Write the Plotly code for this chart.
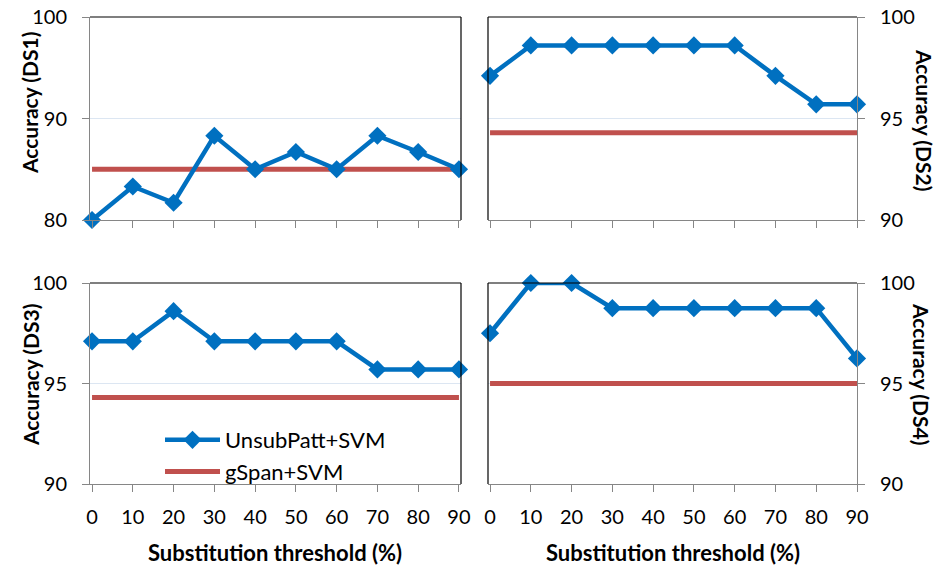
import plotly.graph_objects as go

thresholds = [0, 10, 20, 30, 40, 50, 60, 70, 80, 90]
unsub_ds1 = [80.0, 83.3, 81.7, 88.3, 85.0, 86.7, 85.0, 88.3, 86.7, 85.0]
unsub_ds2 = [97.1, 98.6, 98.6, 98.6, 98.6, 98.6, 98.6, 97.1, 95.7, 95.7]
unsub_ds3 = [97.1, 97.1, 98.6, 97.1, 97.1, 97.1, 97.1, 95.7, 95.7, 95.7]
unsub_ds4 = [97.5, 100.0, 100.0, 98.75, 98.75, 98.75, 98.75, 98.75, 98.75, 96.25]
gspan_ds1 = 85.0
gspan_ds2 = 94.3
gspan_ds3 = 94.3
gspan_ds4 = 95.0
y_ticks_ds1 = [80, 90, 100]
y_ticks_other = [90, 95, 100]
series_names = ["UnsubPatt+SVM", "gSpan+SVM"]
y_titles = ["Accuracy (DS1)", "Accuracy (DS2)", "Accuracy (DS3)", "Accuracy (DS4)"]
x_title = "Substitution threshold (%)"

W, H = 952, 566
BLUE = "#0070C0"
RED = "#C0504D"
GRAY = "#868686"
GRID = "#DCE6F2"
FONT = "Lato"

def px(x):
    return x / W

def py(y):
    return 1 - y / H

fig = go.Figure()

panels = [
    dict(u=unsub_ds1, g=gspan_ds1, xa="x", ya="y", showleg=True),
    dict(u=unsub_ds2, g=gspan_ds2, xa="x2", ya="y2", showleg=False),
    dict(u=unsub_ds3, g=gspan_ds3, xa="x3", ya="y3", showleg=False),
    dict(u=unsub_ds4, g=gspan_ds4, xa="x4", ya="y4", showleg=False),
]

for p in panels:
    fig.add_trace(go.Scatter(
        x=thresholds, y=[p["g"]] * len(thresholds), mode="lines",
        line=dict(color=RED, width=5), name=series_names[1],
        showlegend=p["showleg"], legendrank=2, xaxis=p["xa"], yaxis=p["ya"],
        cliponaxis=False))
    fig.add_trace(go.Scatter(
        x=thresholds, y=p["u"], mode="lines+markers",
        line=dict(color=BLUE, width=4.5),
        marker=dict(symbol="diamond", size=14, color=BLUE),
        name=series_names[0], showlegend=p["showleg"], legendrank=1,
        xaxis=p["xa"], yaxis=p["ya"], cliponaxis=False))

tickfont = dict(family=FONT, size=20, color="#000000")

def xaxis(dom, rng, anchor, labels):
    return dict(domain=dom, range=rng, anchor=anchor, tickvals=thresholds,
                showticklabels=labels, ticks="outside", ticklen=7, tickcolor=GRAY,
                tickwidth=1, showline=True, linecolor=GRAY, linewidth=1,
                showgrid=False, zeroline=False, tickfont=tickfont,
                ticklabelstandoff=8, fixedrange=True, automargin=False)

def yaxis(dom, rng, anchor, ticks, side):
    return dict(domain=dom, range=rng, anchor=anchor, tickvals=ticks, side=side,
                ticks="outside", ticklen=7, tickcolor=GRAY, tickwidth=1,
                showline=True, linecolor=GRAY, linewidth=1, showgrid=True,
                gridcolor=GRID, gridwidth=1, zeroline=False, tickfont=tickfont,
                ticklabelstandoff=11, fixedrange=True, automargin=False)

xl = [px(90), px(461)]
xr = [px(488), px(857)]
yt = [py(220), py(17)]
yb = [py(484), py(283)]

fig.update_layout(
    xaxis=xaxis(xl, [-0.5, 90.5], "y", False),
    yaxis=yaxis(yt, [80, 100], "x", y_ticks_ds1, "left"),
    xaxis2=xaxis(xr, [-0.5, 90.0], "y2", False),
    yaxis2=yaxis(yt, [90, 100], "x2", y_ticks_other, "right"),
    xaxis3=xaxis(xl, [-0.5, 90.5], "y3", True),
    yaxis3=yaxis(yb, [90, 100], "x3", y_ticks_other, "left"),
    xaxis4=xaxis(xr, [-0.5, 90.0], "y4", True),
    yaxis4=yaxis(yb, [90, 100], "x4", y_ticks_other, "right"),
)

shapes = []
for xa, side in [("x", "right"), ("x2", "left"), ("x3", "right"), ("x4", "left")]:
    ya = "y" + xa[1:]
    xref = xa + " domain"
    yref = ya + " domain"
    shapes.append(dict(type="line", xref=xref, yref=yref, x0=0, x1=1, y0=1, y1=1,
                       line=dict(color="#000000", width=1.2), layer="above"))
    xs = 1 if side == "right" else 0
    shapes.append(dict(type="line", xref=xref, yref=yref, x0=xs, x1=xs, y0=0, y1=1,
                       line=dict(color="#000000", width=1.2), layer="above"))

ytitlefont = dict(family=FONT, size=21, color="#000000", weight="bold")
xtitlefont = dict(family=FONT, size=22, color="#000000", weight="bold")
annotations = [
    dict(text=y_titles[0], x=px(30), y=py(103), textangle=-90, font=ytitlefont),
    dict(text=y_titles[1], x=px(924), y=py(120), textangle=90, font=ytitlefont),
    dict(text=y_titles[2], x=px(30), y=py(375), textangle=-90, font=ytitlefont),
    dict(text=y_titles[3], x=px(922), y=py(374), textangle=90, font=ytitlefont),
    dict(text=x_title, x=px(275), y=py(552), textangle=0, font=xtitlefont),
    dict(text=x_title, x=px(673), y=py(552), textangle=0, font=xtitlefont),
]
for a in annotations:
    a.update(xref="paper", yref="paper", showarrow=False,
             xanchor="center", yanchor="middle")

fig.update_layout(
    width=W, height=H,
    margin=dict(l=0, r=0, t=0, b=0, autoexpand=False),
    paper_bgcolor="white", plot_bgcolor="white",
    font=dict(family=FONT, color="#000000"),
    shapes=shapes, annotations=annotations,
    legend=dict(x=px(160), y=py(419), xanchor="left", yanchor="top",
                bgcolor="rgba(0,0,0,0)", font=dict(family=FONT, size=22),
                itemwidth=55, tracegroupgap=0, traceorder="normal"),
)

fig.write_html("out.html", config={"displayModeBar": False},
               post_script="document.body.style.margin='0';document.body.style.overflow='hidden';")
